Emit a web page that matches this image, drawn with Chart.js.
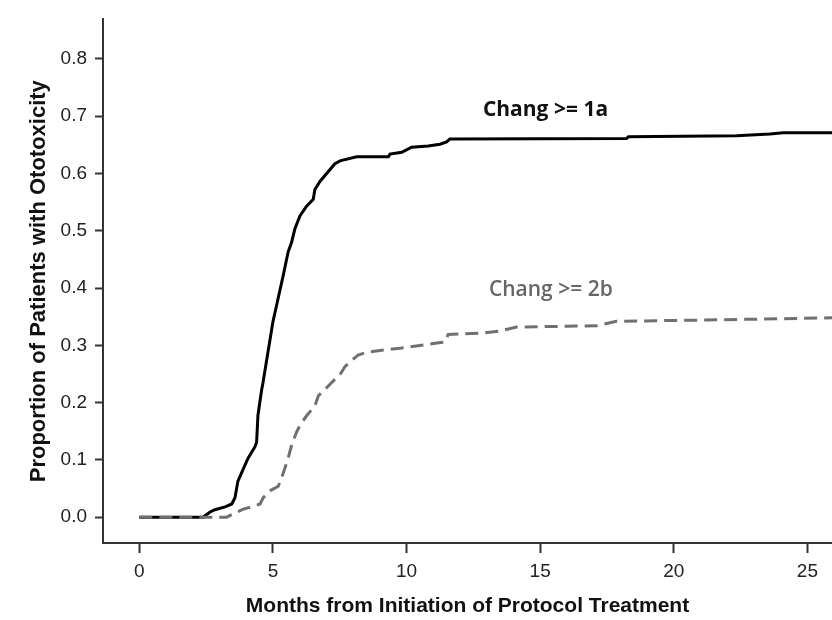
<!DOCTYPE html>
<html>
<head>
<meta charset="utf-8">
<script src="https://cdn.jsdelivr.net/npm/chart.js@4"></script>
<style>
  body { margin: 0; background: #fff; }
  canvas { display: block; }
</style>
</head>
<body>
<canvas id="otoChart" width="832" height="620"></canvas>
<script>
// cumulative incidence
const monthsA = [0, 2.38, 2.65, 2.83, 3.21, 3.46, 3.58, 3.69, 3.88, 4.07, 4.33, 4.39, 4.44, 4.58, 4.63, 5.0, 5.2, 5.39, 5.57, 5.7, 5.82, 6.01, 6.26, 6.51, 6.57, 6.76, 7.01, 7.32, 7.51, 8.13, 9.32, 9.38, 9.82, 10.19, 10.81, 11.25, 11.5, 11.62, 18.23, 18.3, 22.35, 23.6, 24.1, 26];
const propA = [0, 0, 0.009, 0.013, 0.018, 0.023, 0.034, 0.063, 0.083, 0.103, 0.123, 0.131, 0.178, 0.223, 0.235, 0.341, 0.383, 0.423, 0.463, 0.48, 0.503, 0.526, 0.543, 0.555, 0.572, 0.586, 0.6, 0.617, 0.622, 0.629, 0.629, 0.634, 0.637, 0.646, 0.648, 0.651, 0.655, 0.66, 0.661, 0.664, 0.666, 0.669, 0.671, 0.671];

const monthsB = [0, 3.27, 3.52, 3.89, 4.2, 4.52, 4.64, 4.89, 5.2, 5.33, 5.45, 5.57, 5.7, 5.89, 6.01, 6.26, 6.57, 6.7, 6.95, 7.26, 7.51, 7.7, 7.95, 8.19, 8.51, 9.0, 9.75, 11.0, 11.44, 11.56, 12.75, 13.49, 14.12, 17.11, 17.86, 20.98, 26];
const propB = [0, 0, 0.006, 0.014, 0.018, 0.023, 0.034, 0.046, 0.054, 0.069, 0.086, 0.103, 0.126, 0.149, 0.16, 0.177, 0.194, 0.212, 0.223, 0.238, 0.249, 0.263, 0.274, 0.283, 0.288, 0.291, 0.295, 0.303, 0.306, 0.319, 0.321, 0.325, 0.332, 0.334, 0.342, 0.344, 0.348];

const xTicks = [0, 5, 10, 15, 20, 25];
const yTicks = [0, 0.1, 0.2, 0.3, 0.4, 0.5, 0.6, 0.7, 0.8];

// curve labels placed in data units
const curveLabels = ['Chang >= 1a', 'Chang >= 2b'];
const labelMonth = [15.2, 15.4];
const labelProp = [0.71, 0.397];

const toPoints = (xs, ys) => xs.map((x, i) => ({ x: x, y: ys[i] }));

const curveLabelPlugin = {
    id: 'curveLabels',
    afterDatasetsDraw(chart) {
        const ctx = chart.ctx;
        const xs = chart.scales.x, ys = chart.scales.y;
        const colors = ['#111', '#666'];
        ctx.save();
        ctx.textAlign = 'center';
        ctx.textBaseline = 'middle';
        curveLabels.forEach((t, i) => {
            ctx.font = (i === 0 ? 'bold' : '600') + ' 21px "Open Sans"';
            ctx.fillStyle = colors[i];
            ctx.fillText(t, xs.getPixelForValue(labelMonth[i]), ys.getPixelForValue(labelProp[i]));
        });
        ctx.restore();
    }
};

const tickFont = { family: 'Liberation Sans', size: 19 };

new Chart(document.getElementById('otoChart'), {
    type: 'line',
    data: {
        datasets: [{
            label: 'Chang >= 2b',
            data: toPoints(monthsB, propB),
            borderColor: '#707070',
            borderWidth: 3,
            borderDash: [13, 7],
            pointRadius: 0,
            tension: 0,
            order: 0
        }, {
            label: 'Chang >= 1a',
            data: toPoints(monthsA, propA),
            borderColor: '#000',
            borderWidth: 3,
            pointRadius: 0,
            tension: 0,
            order: 1
        }]
    },
    options: {
        responsive: false,
        animation: false,
        layout: { padding: { top: 10, right: 0, left: 0, bottom: 0 } },
        plugins: {
            legend: { display: false },
            tooltip: { enabled: false }
        },
        scales: {
            x: {
                type: 'linear',
                min: -1.358,
                max: 25.92,
                afterBuildTicks: s => { s.ticks = xTicks.map(v => ({ value: v })); },
                afterFit: s => { s.height = 77; },
                ticks: { font: tickFont, color: '#222', padding: 7, maxRotation: 0 },
                grid: { drawOnChartArea: false, tickLength: 10, tickColor: '#333', tickWidth: 2 },
                border: { color: '#333', width: 2 },
                title: {
                    display: true,
                    text: 'Months from Initiation of Protocol Treatment',
                    font: { family: 'Liberation Sans', size: 21, weight: 'bold' },
                    color: '#111',
                    padding: { top: 0, bottom: 1 }
                }
            },
            y: {
                type: 'linear',
                min: -0.0451,
                max: 0.869,
                afterBuildTicks: s => { s.ticks = yTicks.map(v => ({ value: v })); },
                afterFit: s => { s.width = 103; },
                ticks: { font: tickFont, color: '#222', padding: 8, callback: v => v.toFixed(1) },
                grid: { drawOnChartArea: false, tickLength: 8, tickColor: '#333', tickWidth: 2 },
                border: { color: '#333', width: 2 },
                title: {
                    display: true,
                    text: 'Proportion of Patients with Ototoxicity',
                    font: { family: 'Liberation Sans', size: 22, weight: 'bold' },
                    color: '#111',
                    padding: { top: 26, bottom: 0 }
                }
            }
        }
    },
    plugins: [curveLabelPlugin]
});
</script>
</body>
</html>
